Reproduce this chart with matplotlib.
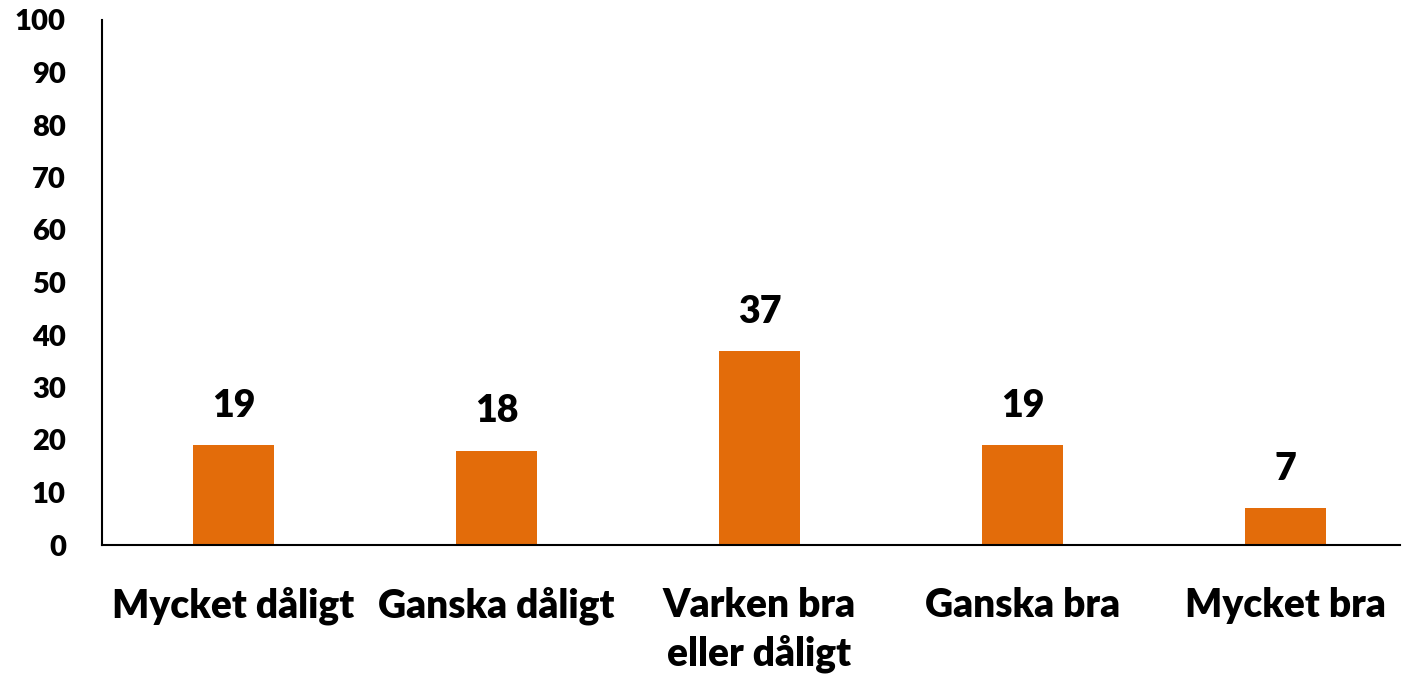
import matplotlib
matplotlib.use("Agg")
import matplotlib.pyplot as plt

categories = ["Mycket dåligt", "Ganska dåligt", "Varken bra\neller dåligt", "Ganska bra", "Mycket bra"]
values = [19, 18, 37, 19, 7]
yticks = [0, 10, 20, 30, 40, 50, 60, 70, 80, 90, 100]

plt.rcParams['font.family'] = ['Lato', 'DejaVu Sans']
W, H = 1402, 674
fig = plt.figure(figsize=(W/100, H/100), dpi=100)
ax = fig.add_axes([102/W, 1-545/H, (1400-102)/W, (545-20)/H])

x = list(range(len(categories)))
bars = ax.bar(x, values, width=0.31, color="#E36C0A")
for xi, v in zip(x, values):
    ax.annotate(str(v), (xi, v), xytext=(0, 22), textcoords="offset pixels",
                ha="center", va="bottom", fontsize=27, fontweight="heavy")

ax.set_xlim(-0.5, 4.435)
ax.set_ylim(0, 100)
ax.set_yticks(yticks)
ax.set_yticklabels([str(t) for t in yticks], fontsize=21, fontweight="heavy")
ax.set_xticks(x)
ax.set_xticklabels(categories, fontsize=28, fontweight="heavy", linespacing=1.35)
ax.tick_params(axis="both", length=0)
ax.tick_params(axis="x", pad=30)
ax.tick_params(axis="y", pad=26)
for s in ["top", "right"]:
    ax.spines[s].set_visible(False)
for s in ["left", "bottom"]:
    ax.spines[s].set_linewidth(1.5)
    ax.spines[s].set_color("black")

fig.savefig("out.png", dpi=100)
